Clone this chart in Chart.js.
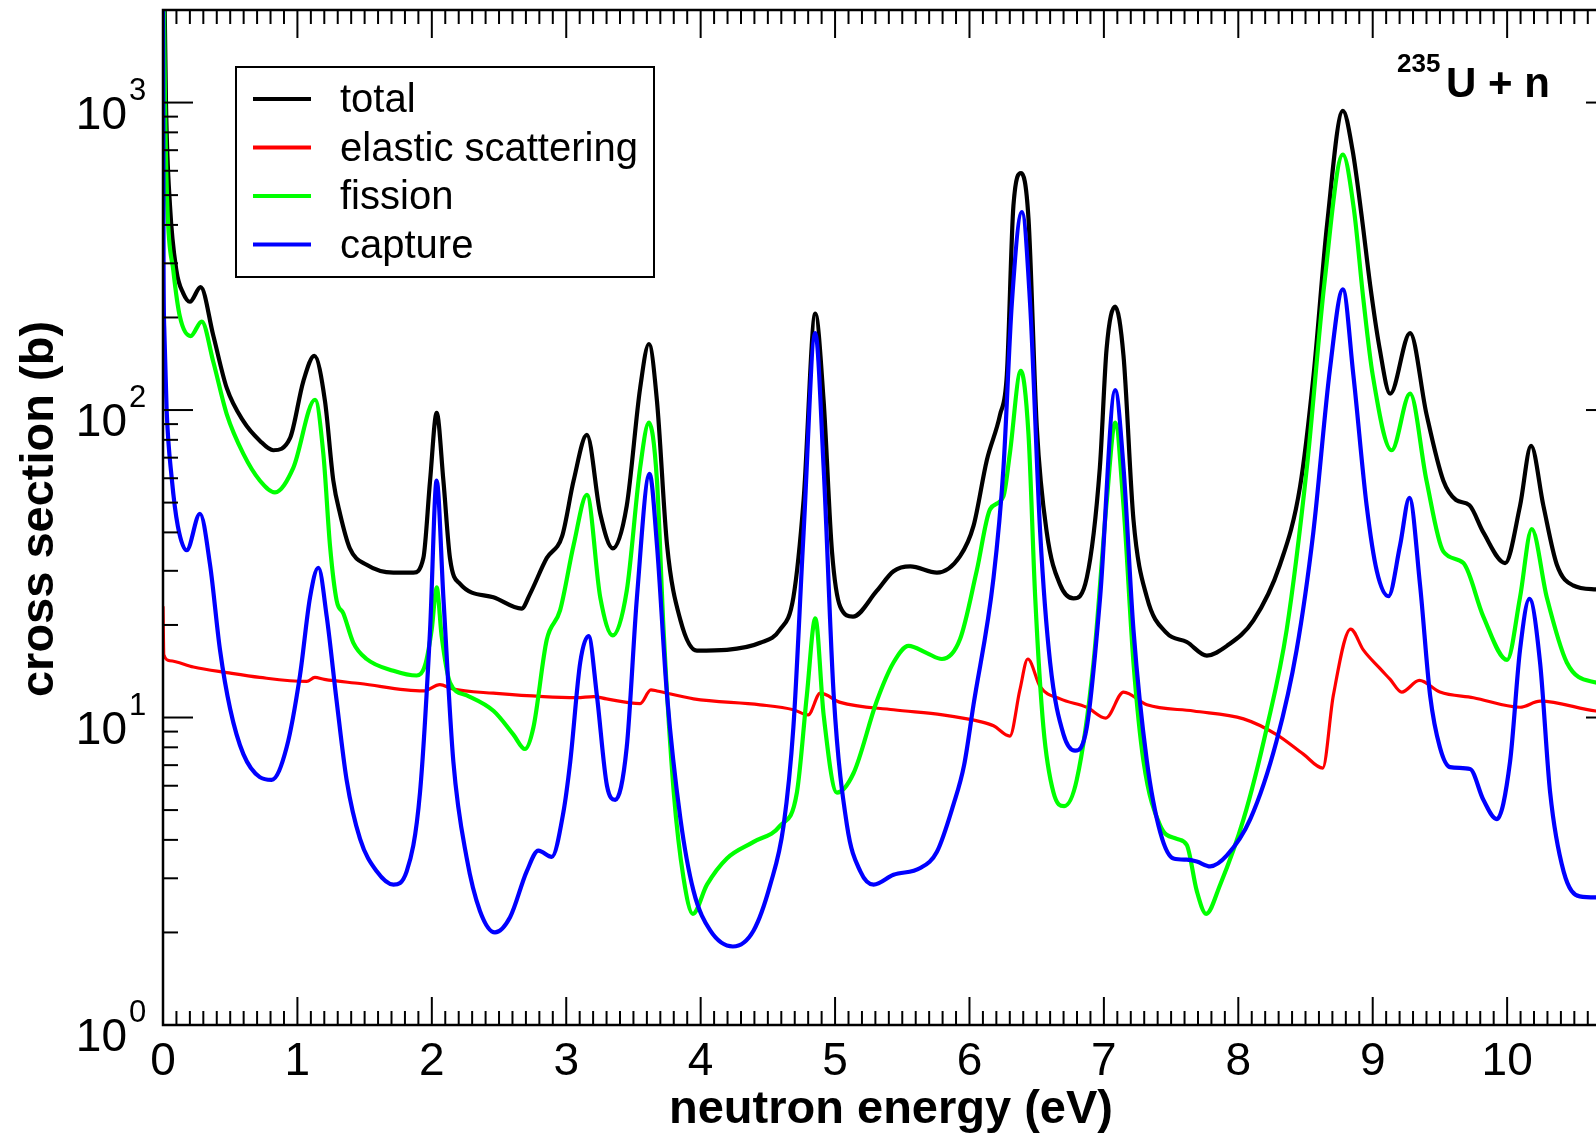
<!DOCTYPE html>
<html>
<head>
<meta charset="utf-8">
<script src="https://cdn.jsdelivr.net/npm/chart.js@4.4.1/dist/chart.umd.min.js"></script>
<style>
  body { margin: 0; overflow: hidden; background: #fff; }
</style>
</head>
<body>
<canvas id="grafico" width="1620" height="1136"></canvas>
<script>
// energia (eV) e secao de choque (b)
const totalE = [0.004, 0.022, 0.052, 0.10, 0.15, 0.20, 0.28, 0.375, 0.474, 0.598,
  0.72, 0.82, 0.945, 1.044, 1.126, 1.205, 1.267, 1.317, 1.39, 1.515,
  1.714, 1.863, 1.937, 1.987, 2.036, 2.086, 2.135, 2.21, 2.458, 2.668,
  2.73, 2.855, 2.97, 3.055, 3.154, 3.253, 3.347, 3.45, 3.55, 3.615,
  3.675, 3.75, 3.85, 3.972, 4.195, 4.443, 4.59, 4.69, 4.766, 4.853,
  4.915, 4.977, 5.039, 5.133, 5.31, 5.435, 5.56, 5.758, 5.93, 6.03,
  6.129, 6.228, 6.278, 6.327, 6.384, 6.439, 6.501, 6.575, 6.675, 6.774,
  6.873, 6.97, 7.02, 7.084, 7.146, 7.22, 7.32, 7.468, 7.617, 7.766,
  7.915, 8.113, 8.31, 8.46, 8.56, 8.66, 8.778, 8.85, 8.92, 8.98,
  9.05, 9.13, 9.278, 9.40, 9.525, 9.62, 9.72, 9.823, 9.985, 10.096,
  10.178, 10.27, 10.37, 10.49, 10.66, 10.81];
const totalXS = [4000, 1000, 462, 284, 240, 225, 251, 174, 118, 92,
  79.5, 74, 81, 124, 150, 107, 59, 46, 35.5, 31.4,
  29.6, 29.6, 33, 59, 98, 59, 33, 27.2, 24.6, 22.6,
  25.2, 33, 39, 59, 83, 46, 35.5, 48.8, 118, 164,
  107, 36.4, 20.7, 16.5, 16.6, 17.5, 19.3, 24.6, 51, 206,
  107, 34.7, 22.9, 21.3, 25.8, 29.9, 31.0, 29.6, 33.5, 42,
  68.7, 96.8, 130, 462, 590, 420, 87.7, 40, 27, 24.4,
  28.5, 65, 158, 217, 150, 44, 24.6, 18.8, 17.6, 15.9,
  17.1, 20.7, 31.4, 56.5, 130, 399, 940, 700, 420, 257,
  160, 113, 178, 97, 59, 51, 49, 40, 31.8, 48.8,
  76.5, 48.8, 31.4, 26.9, 26.1, 26];

const elasticE = [0.0, 0.006, 0.05, 0.226, 0.474, 0.72, 1.069, 1.13, 1.2, 1.466,
  1.937, 2.06, 2.15, 2.458, 3.078, 3.203, 3.3, 3.55, 3.63, 3.675,
  3.947, 4.443, 4.69, 4.80, 4.89, 5.039, 5.435, 5.80, 6.08, 6.179,
  6.30, 6.375, 6.434, 6.526, 6.675, 6.873, 7.014, 7.146, 7.32, 7.667,
  8.039, 8.285, 8.484, 8.628, 8.707, 8.836, 8.93, 9.05, 9.13, 9.216,
  9.347, 9.50, 9.749, 10.096, 10.245, 10.66, 10.81];
const elasticXS = [23, 16, 15.3, 14.6, 14.0, 13.5, 13.1, 13.5, 13.3, 12.9,
  12.2, 12.8, 12.4, 12.0, 11.6, 11.7, 11.5, 11.1, 12.3, 12.2,
  11.5, 11.0, 10.6, 10.2, 12.0, 11.2, 10.6, 10.2, 9.7, 9.4,
  8.7, 12.3, 15.5, 12.6, 11.5, 10.8, 9.96, 12.1, 11.0, 10.5,
  9.9, 8.8, 7.6, 6.85, 11.8, 19.4, 16.6, 14.5, 13.3, 12.1,
  13.2, 12.1, 11.6, 10.8, 11.3, 10.5, 10.4];

const fissionE = [0.003, 0.015, 0.032, 0.077, 0.126, 0.206, 0.288, 0.375, 0.474, 0.598,
  0.72, 0.833, 0.97, 1.131, 1.193, 1.243, 1.292, 1.342, 1.416, 1.515,
  1.714, 1.887, 1.95, 1.999, 2.036, 2.073, 2.135, 2.26, 2.46, 2.607,
  2.693, 2.756, 2.855, 2.954, 3.055, 3.154, 3.253, 3.347, 3.45, 3.55,
  3.615, 3.675, 3.724, 3.80, 3.873, 3.942, 4.047, 4.195, 4.394, 4.592,
  4.716, 4.79, 4.853, 4.915, 5.014, 5.138, 5.31, 5.435, 5.547, 5.683,
  5.795, 5.93, 6.054, 6.154, 6.253, 6.30, 6.382, 6.439, 6.489, 6.55,
  6.625, 6.704, 6.798, 6.923, 7.022, 7.084, 7.146, 7.22, 7.295, 7.419,
  7.543, 7.617, 7.691, 7.761, 7.865, 8.039, 8.213, 8.36, 8.51, 8.64,
  8.778, 8.86, 8.93, 9.0, 9.141, 9.278, 9.40, 9.525, 9.675, 9.823,
  10.0, 10.096, 10.183, 10.295, 10.444, 10.66, 10.81];
const fissionXS = [3000, 1000, 462, 284, 201, 174, 194, 143, 97, 72,
  59, 54, 65, 108, 72, 36, 24, 21.8, 17.5, 15.5,
  14.2, 13.7, 14.8, 19.3, 26.5, 18.4, 13, 11.8, 10.5, 8.8,
  7.9, 9.3, 17.9, 22.3, 36.4, 53, 24.6, 18.5, 25.8, 65,
  91, 59, 19.3, 5.7, 3.0, 2.3, 2.86, 3.48, 3.94, 4.45,
  5.7, 11.8, 21, 10.2, 5.7, 6.6, 11.3, 15.1, 17.1, 16.2,
  15.5, 18, 30, 47.6, 52.5, 72, 134, 83.5, 24.6, 9.3,
  5.7, 5.15, 6.27, 15.1, 51, 91, 48.8, 15.1, 7.2, 4.45,
  4.03, 3.85, 2.73, 2.3, 2.86, 4.67, 9.3, 19.3, 65, 257,
  677, 450, 230, 130, 74, 113, 59, 34.7, 31.8, 21.3,
  15.4, 24.6, 41, 24.6, 15.1, 13, 12.8];

const captureE = [0.0, 0.004, 0.01, 0.027, 0.065, 0.11, 0.176, 0.275, 0.35, 0.424, 0.499,
  0.598, 0.72, 0.808, 0.92, 1.019, 1.094, 1.156, 1.218, 1.292, 1.366,
  1.466, 1.59, 1.714, 1.813, 1.912, 1.987, 2.036, 2.086, 2.16, 2.26,
  2.358, 2.47, 2.582, 2.706, 2.793, 2.892, 2.978, 3.03, 3.104, 3.166,
  3.228, 3.303, 3.365, 3.45, 3.526, 3.62, 3.675, 3.75, 3.85, 3.947,
  4.071, 4.24, 4.394, 4.518, 4.617, 4.69, 4.766, 4.853, 4.915, 4.99,
  5.089, 5.188, 5.287, 5.435, 5.634, 5.758, 5.88, 5.96, 6.03, 6.179,
  6.253, 6.315, 6.39, 6.451, 6.526, 6.60, 6.70, 6.786, 6.873, 6.972,
  7.084, 7.146, 7.22, 7.32, 7.419, 7.518, 7.617, 7.691, 7.791, 7.915,
  8.089, 8.285, 8.434, 8.558, 8.682, 8.778, 8.856, 8.955, 9.03, 9.117,
  9.204, 9.273, 9.352, 9.427, 9.50, 9.575, 9.724, 9.823, 9.923, 10.022,
  10.096, 10.166, 10.245, 10.32, 10.42, 10.54, 10.66, 10.81];
const captureXS = [3000, 300, 180, 100, 60, 42, 35, 46, 31.4, 16.6, 10.7,
  7.6, 6.4, 6.27, 8.0, 13.7, 24.6, 30.7, 21.3, 11.3, 6.27,
  4.03, 3.16, 2.86, 3.16, 5.7, 19.3, 59, 24.6, 7.2, 3.48,
  2.35, 2.0, 2.24, 3.16, 3.69, 3.52, 4.9, 7.2, 15.1, 18.4,
  11.8, 6.0, 5.4, 8.0, 24.6, 62, 36.4, 11.8, 4.67, 2.73,
  2.03, 1.8, 2.03, 2.86, 4.45, 9.3, 40, 178, 65, 11.8,
  4.45, 3.16, 2.86, 3.08, 3.24, 3.66, 5.2, 7, 11, 28.5,
  65, 222, 440, 222, 40, 15.1, 8.8, 7.8, 9.3, 24.6,
  116, 65, 19.3, 7.2, 4.24, 3.48, 3.45, 3.4, 3.28, 3.56,
  4.67, 8.4, 16.6, 40, 136, 247, 130, 48.8, 30, 24.8,
  36.4, 51.8, 27, 11.8, 8.0, 6.9, 6.8, 5.4, 4.67, 7.2,
  16.6, 24.3, 15.1, 5.7, 3.16, 2.62, 2.6, 2.6];

const seriesNames = ['total', 'elastic scattering', 'fission', 'capture'];
const seriesColors = ['#000000', '#ff0000', '#00ff00', '#0000ff'];
const xTickLabels = ['0', '1', '2', '3', '4', '5', '6', '7', '8', '9', '10'];
const yTickExps = ['0', '1', '2', '3'];

const FONT = '"Liberation Sans", Arial, Helvetica, sans-serif';

function pontos(xs, ys) {
  return xs.map((x, i) => ({ x: x, y: ys[i] }));
}

function linha(ctx, x1, y1, x2, y2) {
  ctx.beginPath();
  ctx.moveTo(x1, y1);
  ctx.lineTo(x2, y2);
  ctx.stroke();
}

// moldura, ticks para dentro, rotulos, legenda e anotacao
const molduraPlugin = {
  id: 'moldura',
  afterDatasetsDraw(chart) {
    const ctx = chart.ctx;
    const a = chart.chartArea;
    const sx = chart.scales.x;
    const sy = chart.scales.y;
    ctx.save();
    ctx.strokeStyle = '#000';
    ctx.fillStyle = '#000';

    // ticks do eixo x (0.1 em 0.1)
    ctx.lineWidth = 2;
    for (let i = 0; i / 10 <= sx.max; i++) {
      const px = sx.getPixelForValue(i / 10);
      const len = i % 10 === 0 ? 28 : 14;
      linha(ctx, px, a.bottom, px, a.bottom - len);
      linha(ctx, px, a.top, px, a.top + len);
    }
    // ticks do eixo y (log)
    for (let d = 0; d <= 3; d++) {
      for (let k = 1; k <= 9; k++) {
        const v = k * Math.pow(10, d);
        if (v > sy.max) break;
        const py = sy.getPixelForValue(v);
        const len = k === 1 ? 30 : 15;
        linha(ctx, a.left, py, a.left + len, py);
        linha(ctx, a.right, py, a.right - len, py);
      }
    }

    // moldura
    ctx.lineWidth = 2.5;
    ctx.strokeRect(a.left, a.top, a.right - a.left, a.bottom - a.top);

    // rotulos do eixo x
    ctx.font = '46px ' + FONT;
    ctx.textAlign = 'center';
    ctx.textBaseline = 'alphabetic';
    xTickLabels.forEach((lab, i) => {
      ctx.fillText(lab, sx.getPixelForValue(i), a.bottom + 50);
    });

    // rotulos do eixo y: 10 com expoente
    yTickExps.forEach((e, i) => {
      const py = sy.getPixelForValue(Math.pow(10, i));
      ctx.font = '46px ' + FONT;
      ctx.textAlign = 'right';
      ctx.fillText('10', 127, py + 26);
      ctx.font = '31px ' + FONT;
      ctx.textAlign = 'left';
      ctx.fillText(e, 129, py - 3);
    });

    // titulos dos eixos
    ctx.font = 'bold 47px ' + FONT;
    ctx.textAlign = 'center';
    ctx.fillText('neutron energy (eV)', 891, a.bottom + 98);
    ctx.save();
    ctx.translate(53, 509);
    ctx.rotate(-Math.PI / 2);
    ctx.fillText('cross section (b)', 0, 0);
    ctx.restore();

    // anotacao 235U + n
    ctx.textAlign = 'left';
    ctx.font = 'bold 26px ' + FONT;
    ctx.fillText('235', 1397, 72);
    ctx.font = 'bold 42px ' + FONT;
    ctx.fillText('U + n', 1446, 97);

    // legenda
    const lx = 236, ly = 67, lw = 418, lh = 210;
    ctx.fillStyle = '#fff';
    ctx.fillRect(lx, ly, lw, lh);
    ctx.lineWidth = 2;
    ctx.strokeRect(lx, ly, lw, lh);
    ctx.font = '40px ' + FONT;
    ctx.textBaseline = 'middle';
    seriesNames.forEach((nome, i) => {
      const yy = ly + 32 + i * 48.5;
      ctx.strokeStyle = seriesColors[i];
      ctx.lineWidth = 4;
      linha(ctx, lx + 17, yy, lx + 75, yy);
      ctx.fillStyle = '#000';
      ctx.fillText(nome, lx + 104, yy + 2);
    });
    ctx.restore();
  }
};

const serieX = [totalE, elasticE, fissionE, captureE];
const serieY = [totalXS, elasticXS, fissionXS, captureXS];

new Chart(document.getElementById('grafico'), {
  type: 'line',
  data: {
    datasets: seriesNames.map((nome, i) => ({
      label: nome,
      data: pontos(serieX[i], serieY[i]),
      borderColor: seriesColors[i],
      borderWidth: i === 1 ? 3.2 : 4.2,
      pointRadius: 0,
      fill: false,
      cubicInterpolationMode: 'monotone',
      order: 3 - i // capture por cima
    }))
  },
  options: {
    responsive: false,
    animation: false,
    events: [],
    layout: { padding: { top: 10, right: 4, left: 0, bottom: 0 } },
    scales: {
      x: {
        type: 'linear',
        min: 0,
        max: 10.81,
        ticks: { display: false },
        grid: { display: false },
        border: { display: false },
        afterFit: (s) => { s.height = 111; }
      },
      y: {
        type: 'logarithmic',
        min: 1,
        max: 2000,
        ticks: { display: false },
        grid: { display: false },
        border: { display: false },
        afterFit: (s) => { s.width = 163; }
      }
    },
    plugins: {
      legend: { display: false },
      tooltip: { enabled: false }
    }
  },
  plugins: [molduraPlugin]
});
</script>
</body>
</html>
